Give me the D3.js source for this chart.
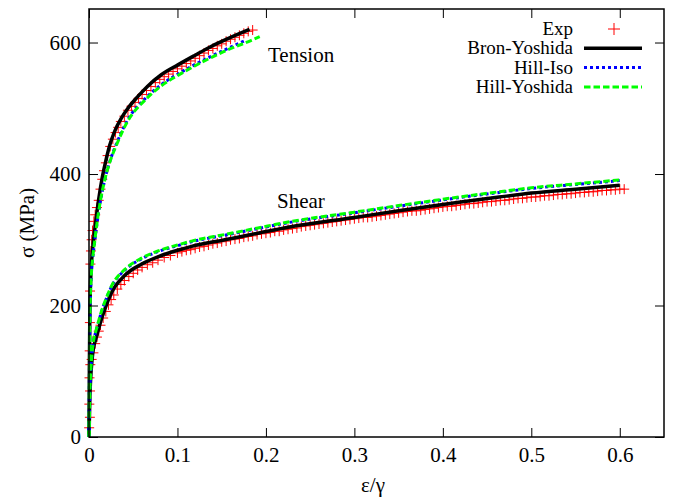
<!DOCTYPE html>
<html>
<head>
<meta charset="utf-8">
<script src="https://cdn.jsdelivr.net/npm/d3@7"></script>
<style>
  body { margin: 0; background: #fff; }
  svg text { font-family: "Liberation Serif", "DejaVu Serif", serif !important; fill: #000; }
</style>
</head>
<body>
<div id="chart"></div>
<script>
// Stress-strain curves, tension and shear

// Axis ticks
var xTicks = [0, 0.1, 0.2, 0.3, 0.4, 0.5, 0.6];
var yTicks = [0, 200, 400, 600];

// Series names (legend order = draw order)
var seriesNames = ["Exp", "Bron-Yoshida", "Hill-Iso", "Hill-Yoshida"];

// Model curves [strain, stress MPa]
var tensionBron = [[0,0],[0.0004,100],[0.0009,180],[0.0015,225],[0.0023,252],[0.0035,278],[0.0053,302],
  [0.008,332],[0.011,362],[0.015,395],[0.019,420],[0.0235,444],[0.029,465],[0.0366,485],[0.044,500],
  [0.0553,518],[0.0666,534],[0.0817,551],[0.1005,566],[0.119,580],[0.138,594],[0.157,606],[0.1815,620]];
var tensionHillIso = [[0,0],[0.0005,100],[0.0011,180],[0.0018,222],[0.0028,250],[0.0042,272],[0.0062,294],
  [0.009,324],[0.013,359],[0.018,392],[0.024,421],[0.031,446],[0.044,483],[0.063,514],[0.0817,536],
  [0.1005,552],[0.119,566],[0.138,579],[0.157,591],[0.178,604]];
var tensionHillYos = [[0,0],[0.0005,100],[0.0011,180],[0.0018,222],[0.0028,250],[0.0042,272],[0.0062,295],
  [0.009,325],[0.013,360],[0.018,392],[0.024,420],[0.031,444],[0.044,481],[0.063,512],[0.0817,534],
  [0.1005,550],[0.119,564],[0.138,577],[0.157,589],[0.183,603],[0.193,609]];

var shearBron = [[0,0],[0.001,62],[0.002,92],[0.0035,118],[0.005,135],[0.0075,148],[0.0106,163],[0.014,179],
  [0.018,195],[0.0256,220],[0.0406,246],[0.0595,263],[0.078,274],[0.1,284],[0.116,290],[0.1535,300],
  [0.191,310],[0.225,319],[0.3,334],[0.35,344],[0.418,357],[0.4636,365],[0.5,371],[0.55,377],[0.6,383]];
var shearHillIso = [[0,0],[0.001,67],[0.002,99],[0.0035,127],[0.005,145],[0.0075,159],[0.0106,174],[0.014,190],
  [0.018,205],[0.0256,229],[0.0406,254],[0.0595,271],[0.078,282],[0.1,291],[0.116,297],[0.1535,307],
  [0.191,317],[0.225,326],[0.3,341],[0.35,351],[0.418,364],[0.4636,372],[0.5,378],[0.55,384],[0.6,390]];
var shearHillYos = [[0,0],[0.001,68],[0.002,100],[0.0035,128],[0.005,146],[0.0075,160],[0.0106,175],[0.014,191],
  [0.018,206],[0.0256,230],[0.0406,255],[0.0595,272],[0.078,283],[0.1,292],[0.116,298],[0.1535,308],
  [0.191,318],[0.225,327],[0.3,342],[0.35,352],[0.418,365],[0.4636,373],[0.5,379],[0.55,385],[0.6,391]];

// Experimental points [strain, stress MPa]
var tensionExp = [[0.0002,14],[0.0004,50],[0.0006,90],[0.0008,131],[0.0010,174],[0.0012,222],[0.0016,263],
  [0.0022,283],[0.003,300],[0.004,314],[0.0055,328],[0.007,338],[0.009,349],[0.011,360],[0.013,377],
  [0.015,392],[0.017,405],[0.019,417],[0.021,428],[0.024,442],[0.027,453],[0.030,463],[0.033,471],
  [0.036,480],[0.040,488],[0.044,497],[0.048,503],[0.052,509],[0.056,515],[0.060,521],[0.065,527],
  [0.070,533],[0.075,539],[0.080,544],[0.085,548],[0.090,552],[0.095,556],[0.100,560],[0.105,564],
  [0.110,568],[0.115,572],[0.120,576],[0.125,580],[0.130,584],[0.135,588],[0.140,591],[0.145,595],
  [0.150,598],[0.155,602],[0.160,605],[0.165,608],[0.170,611],[0.175,614],[0.180,617],[0.185,619]];
var shearExp = [[0.0010,30],[0.0012,70],[0.0015,110],[0.003,118],[0.005,128],[0.007,142],[0.009,152],
  [0.011,161],[0.013,170],[0.016,181],[0.019,191],[0.022,201],[0.025,209],[0.028,216],[0.032,225],
  [0.036,232],[0.040,238],[0.045,244],[0.050,249],[0.055,254],[0.060,258],[0.066,262],[0.072,265],
  [0.078,269],[0.085,273],[0.092,276],
  [0.100,280],[0.105,282],[0.110,284],[0.115,285],[0.120,287],[0.125,289],[0.130,290],[0.135,292],
  [0.140,294],[0.145,295],[0.150,297],[0.155,298],[0.160,300],[0.165,301],[0.170,302],[0.175,304],
  [0.180,305],[0.185,306],[0.190,308],[0.195,309],[0.200,310],[0.205,311],[0.210,313],[0.215,313],
  [0.220,315],[0.225,316],[0.230,317],[0.235,318],[0.240,320],[0.245,321],[0.250,322],[0.255,323],
  [0.260,324],[0.265,325],[0.270,326],[0.275,327],[0.280,328],[0.285,329],[0.290,330],[0.295,331],
  [0.300,332],[0.305,333],[0.310,334],[0.315,334],[0.320,335],[0.325,336],[0.330,337],[0.335,338],
  [0.340,339],[0.345,340],[0.350,341],[0.355,342],[0.360,343],[0.365,344],[0.370,344],[0.375,345],
  [0.380,346],[0.385,347],[0.390,348],[0.395,349],[0.400,350],[0.405,351],[0.410,351],[0.415,352],
  [0.420,353],[0.425,354],[0.430,355],[0.435,355],[0.440,356],[0.445,357],[0.450,358],[0.455,358],
  [0.460,359],[0.465,360],[0.470,360],[0.475,361],[0.480,362],[0.485,363],[0.490,363],[0.495,364],
  [0.500,365],[0.505,365],[0.510,366],[0.515,367],[0.520,367],[0.525,368],[0.530,369],[0.535,369],
  [0.540,370],[0.545,370],[0.550,371],[0.555,372],[0.560,372],[0.565,373],[0.570,373],[0.575,374],
  [0.580,375],[0.585,375],[0.590,376],[0.595,376],[0.600,377],[0.605,377]];

var FONT = "Liberation Serif, DejaVu Serif, serif";

// Margins, width, height
var margin = {top: 9, right: 11, bottom: 61, left: 89};
var width = 675 - margin.left - margin.right;
var height = 498 - margin.top - margin.bottom;

var svg = d3.select("#chart").append("svg")
    .attr("width", 675)
    .attr("height", 498)
    .attr("font-family", FONT)
    .append("g")
    .attr("transform", "translate(" + margin.left + "," + margin.top + ")");

// Scales
var x = d3.scaleLinear().domain([0, 0.65]).range([0, width]);
var y = d3.scaleLinear().domain([0, 651]).range([height, 0]);

var fmtX = function (d) { return d === 0 ? "0" : d3.format(".1f")(d); };

// Axes, ticks inward and mirrored
svg.append("g")
    .attr("class", "x axis")
    .attr("transform", "translate(0," + height + ")")
    .call(d3.axisBottom(x).tickValues(xTicks).tickSize(-9).tickPadding(10).tickFormat(fmtX));
svg.append("g")
    .attr("class", "x2 axis")
    .call(d3.axisTop(x).tickValues(xTicks).tickSize(-9).tickFormat(""));
svg.append("g")
    .attr("class", "y axis")
    .call(d3.axisLeft(y).tickValues(yTicks).tickSize(-9).tickPadding(8));
svg.append("g")
    .attr("class", "y2 axis")
    .attr("transform", "translate(" + width + ",0)")
    .call(d3.axisRight(y).tickValues(yTicks).tickSize(-9).tickFormat(""));

svg.selectAll(".axis").attr("font-family", FONT).attr("font-size", 21);
svg.selectAll(".axis .domain").remove();
svg.selectAll(".axis .tick line").attr("stroke", "#000").attr("stroke-width", 1);

// Curves
var line = d3.line()
    .x(function (d) { return x(d[0]); })
    .y(function (d) { return y(d[1]); })
    .curve(d3.curveMonotoneX);

var styles = {
    "Bron-Yoshida": {color: "#000000", width: 3.5, dash: null},
    "Hill-Iso": {color: "#0000ff", width: 3, dash: "3,3"},
    "Hill-Yoshida": {color: "#00ff00", width: 3, dash: "6.5,3"}
};

var plot = svg.append("g");

// Exp crosses first
var crossPath = function (d) {
    var cx = x(d[0]), cy = y(d[1]), s = 5;
    return "M" + (cx - s) + "," + cy + "H" + (cx + s) + "M" + cx + "," + (cy - s) + "V" + (cy + s);
};
plot.selectAll(".exp")
    .data(tensionExp.concat(shearExp))
    .enter().append("path")
    .attr("class", "exp")
    .attr("d", crossPath)
    .attr("stroke", "#ff0000")
    .attr("stroke-width", 1)
    .attr("fill", "none");

var curves = [
    {name: "Bron-Yoshida", data: tensionBron},
    {name: "Bron-Yoshida", data: shearBron},
    {name: "Hill-Iso", data: tensionHillIso},
    {name: "Hill-Iso", data: shearHillIso},
    {name: "Hill-Yoshida", data: tensionHillYos},
    {name: "Hill-Yoshida", data: shearHillYos}
];

curves.forEach(function (c) {
    var st = styles[c.name];
    plot.append("path")
        .datum(c.data)
        .attr("d", line)
        .attr("fill", "none")
        .attr("stroke", st.color)
        .attr("stroke-width", st.width)
        .attr("stroke-dasharray", st.dash);
});

// Frame
svg.append("rect")
    .attr("width", width)
    .attr("height", height)
    .attr("fill", "none")
    .attr("stroke", "#000")
    .attr("stroke-width", 1.5);

// Curve labels
svg.append("text")
    .attr("x", 268 - margin.left)
    .attr("y", 62 - margin.top)
    .attr("font-size", 21)
    .text("Tension");
svg.append("text")
    .attr("x", 277 - margin.left)
    .attr("y", 208 - margin.top)
    .attr("font-size", 21)
    .text("Shear");

// Axis titles
svg.append("text")
    .attr("transform", "translate(" + (34 - margin.left) + "," + (223 - margin.top) + ") rotate(-90)")
    .attr("text-anchor", "middle")
    .attr("font-size", 21)
    .text("σ (MPa)");
svg.append("text")
    .attr("x", 373 - margin.left)
    .attr("y", 492 - margin.top)
    .attr("text-anchor", "middle")
    .attr("font-size", 21)
    .text("ε/γ");

// Legend
var legend = svg.append("g")
    .attr("transform", "translate(" + (573 - margin.left) + "," + (29 - margin.top) + ")");

seriesNames.forEach(function (name, i) {
    var row = legend.append("g")
        .attr("transform", "translate(0," + i * 19.3 + ")");
    row.append("text")
        .attr("x", 0)
        .attr("dy", "0.32em")
        .attr("text-anchor", "end")
        .attr("font-size", 19)
        .text(name);
    if (name === "Exp") {
        row.append("path")
            .attr("d", "M35,0H47M41,-6V6")
            .attr("stroke", "#ff0000")
            .attr("stroke-width", 1);
    } else {
        var st = styles[name];
        row.append("line")
            .attr("x1", 11).attr("x2", 69)
            .attr("stroke", st.color)
            .attr("stroke-width", st.width)
            .attr("stroke-dasharray", st.dash);
    }
});
</script>
</body>
</html>
